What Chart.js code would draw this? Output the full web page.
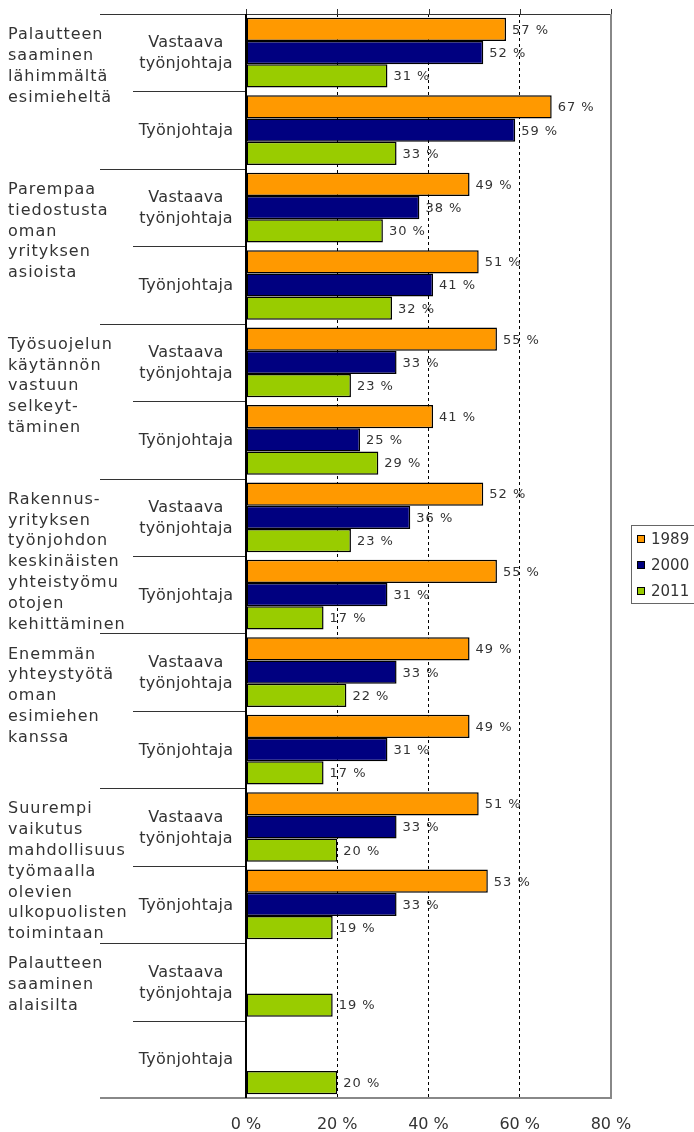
<!DOCTYPE html>
<html>
<head>
<meta charset="utf-8">
<script src="https://cdn.jsdelivr.net/npm/chart.js@4.4.1/dist/chart.umd.min.js"></script>
<style>
    html, body { margin: 0; padding: 0; background: #fff; }
    canvas { display: block; }
</style>
</head>
<body>
<canvas id="canvas1" width="694" height="1132"></canvas>
<script>
// group texts, wrapped like in the original
var groups = [
    ["Palautteen", "saaminen", "lähimmältä", "esimieheltä"],
    ["Parempaa", "tiedostusta", "oman", "yrityksen", "asioista"],
    ["Työsuojelun", "käytännön", "vastuun", "selkeyt-", "täminen"],
    ["Rakennus-", "yrityksen", "työnjohdon", "keskinäisten", "yhteistyömu", "otojen", "kehittäminen"],
    ["Enemmän", "yhteystyötä", "oman", "esimiehen", "kanssa"],
    ["Suurempi", "vaikutus", "mahdollisuus", "työmaalla", "olevien", "ulkopuolisten", "toimintaan"],
    ["Palautteen", "saaminen", "alaisilta"]
];
var roles = [["Vastaava", "työnjohtaja"], ["Työnjohtaja"]];
var years = ["1989", "2000", "2011"];

var values1989 = [57, 67, 49, 51, 55, 41, 52, 55, 49, 49, 51, 53, null, null];
var values2000 = [52, 59, 38, 41, 33, 25, 36, 31, 33, 31, 33, 33, null, null];
var values2011 = [31, 33, 30, 32, 23, 29, 23, 17, 22, 17, 20, 19, 19, 20];

var xTicks = [0, 20, 40, 60, 80];
var colors = ["#FF9900", "#000080", "#99CC00"];

var categories = [];
groups.forEach(function (g) {
    roles.forEach(function (r) {
        categories.push(g.join(" ") + " / " + r.join(" "));
    });
});

var textColor = "#333";

var decorations = {
    id: "decorations",
    beforeDatasetsDraw: function (chart) {
        var ctx = chart.ctx;
        var area = chart.chartArea;
        var x = chart.scales.x;
        var y = chart.scales.y;
        var band = (area.bottom - area.top) / categories.length;
        ctx.save();
        // separators on the left side
        ctx.strokeStyle = "#333";
        ctx.lineWidth = 1;
        for (var i = 1; i < categories.length; i++) {
            var yy = Math.round(area.top + i * band) + 0.5;
            ctx.beginPath();
            ctx.moveTo(i % 2 === 0 ? 100 : 133, yy);
            ctx.lineTo(area.left, yy);
            ctx.stroke();
        }
        // top line and small ticks
        ctx.beginPath();
        ctx.moveTo(100, area.top + 0.5);
        ctx.lineTo(area.right, area.top + 0.5);
        ctx.stroke();
        xTicks.forEach(function (v) {
            var px = Math.round(x.getPixelForValue(v)) + 0.5;
            ctx.beginPath();
            ctx.moveTo(px, area.top - 5);
            ctx.lineTo(px, area.top);
            ctx.stroke();
        });
        // bottom and right border
        ctx.strokeStyle = "#888";
        ctx.lineWidth = 2;
        ctx.beginPath();
        ctx.moveTo(100, area.bottom);
        ctx.lineTo(area.right, area.bottom);
        ctx.lineTo(area.right, area.top);
        ctx.stroke();
        // zero axis
        ctx.strokeStyle = "#000";
        ctx.lineWidth = 2;
        ctx.beginPath();
        ctx.moveTo(area.left, area.top);
        ctx.lineTo(area.left, area.bottom);
        ctx.stroke();

        // texts
        ctx.fillStyle = textColor;
        ctx.textBaseline = "middle";
        ctx.font = "16px 'DejaVu Sans'";
        ctx.letterSpacing = "1px";
        ctx.textAlign = "left";
        groups.forEach(function (g, gi) {
            var top = area.top + gi * 2 * band;
            g.forEach(function (line, li) {
                ctx.fillText(line, 8, top + 21 + li * 20.8);
            });
        });
        ctx.letterSpacing = "0.3px";
        ctx.textAlign = "center";
        for (var c = 0; c < categories.length; c++) {
            var lines = roles[c % 2];
            var cy = y.getPixelForValue(c);
            lines.forEach(function (line, li) {
                ctx.fillText(line, 186, cy + 1 + (li - (lines.length - 1) / 2) * 21);
            });
        }
        ctx.restore();
    },
    afterDatasetsDraw: function (chart) {
        var ctx = chart.ctx;
        ctx.save();
        ctx.fillStyle = textColor;
        ctx.font = "13px 'DejaVu Sans'";
        ctx.letterSpacing = "1px";
        ctx.textAlign = "left";
        ctx.textBaseline = "middle";
        chart.data.datasets.forEach(function (ds, di) {
            chart.getDatasetMeta(di).data.forEach(function (bar, i) {
                if (ds.data[i] == null) return;
                ctx.fillText(ds.data[i] + " %", bar.x + 6, bar.y + 1);
            });
        });

        // legend
        ctx.letterSpacing = "0px";
        ctx.strokeStyle = "#666";
        ctx.lineWidth = 1;
        ctx.strokeRect(631.5, 525.5, 80, 78);
        ctx.font = "15px 'DejaVu Sans'";
        chart.data.datasets.forEach(function (ds, di) {
            var ly = 539 + di * 26;
            ctx.fillStyle = ds.backgroundColor;
            ctx.fillRect(637, ly - 4, 8, 8);
            ctx.strokeStyle = "#000";
            ctx.strokeRect(637.5, ly - 3.5, 7, 7);
            ctx.fillStyle = textColor;
            ctx.fillText(ds.label, 651, ly + 1);
        });
        ctx.restore();
    }
};

function barSet(i, values) {
    return {
        label: years[i],
        data: values,
        backgroundColor: colors[i],
        borderColor: "#000",
        borderWidth: 1.5,
        borderSkipped: false,
        categoryPercentage: 0.9,
        barPercentage: 1.0
    };
}

new Chart(document.getElementById("canvas1"), {
    type: "bar",
    data: {
        labels: categories,
        datasets: [
            barSet(0, values1989),
            barSet(1, values2000),
            barSet(2, values2011)
        ]
    },
    options: {
        indexAxis: "y",
        responsive: false,
        animation: false,
        layout: { padding: { left: 246, right: 83, top: 14, bottom: 0 } },
        plugins: {
            legend: { display: false },
            tooltip: { enabled: false }
        },
        scales: {
            y: { display: false },
            x: {
                min: 0,
                max: 80,
                ticks: {
                    stepSize: 20,
                    padding: 17,
                    color: textColor,
                    font: { family: "'DejaVu Sans'", size: 16 },
                    callback: function (v) { return v + " %"; }
                },
                grid: {
                    drawTicks: false,
                    color: function (c) {
                        var v = c.tick ? c.tick.value : 0;
                        return (v === 0 || v === 80) ? "rgba(0,0,0,0)" : "#000";
                    }
                },
                border: { display: false, dash: [3, 3] },
                afterFit: function (s) { s.height = 34; }
            }
        }
    },
    plugins: [decorations]
});
</script>
</body>
</html>
